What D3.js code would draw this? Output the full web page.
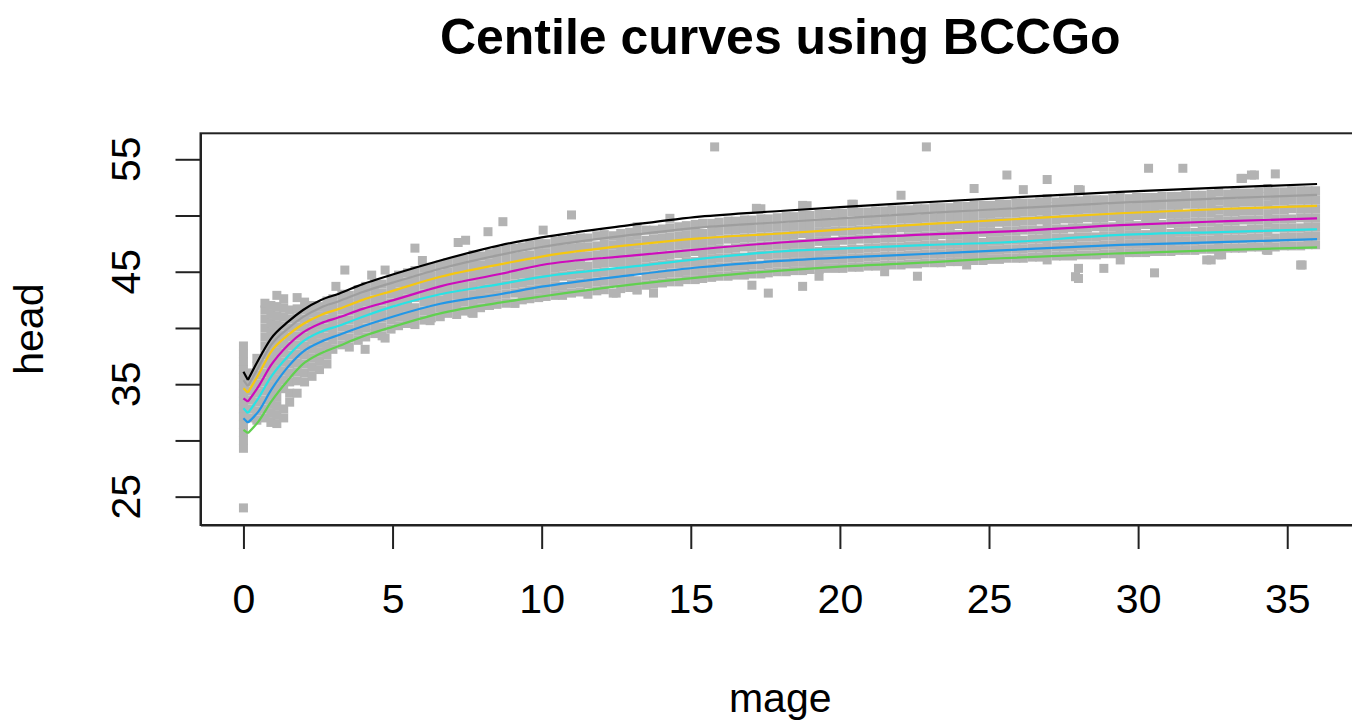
<!DOCTYPE html>
<html>
<head>
<meta charset="utf-8">
<script src="https://cdn.jsdelivr.net/npm/d3@7"></script>
<style>
  html, body { margin: 0; padding: 0; background: #ffffff; }
  svg { display: block; }
  text { font-family: "Liberation Sans", Arial, Helvetica, sans-serif; fill: #000; }
</style>
</head>
<body>
<svg id="chart" width="1352" height="726"></svg>
<script>
// ---- axis ticks ----
const xTicks = [0, 5, 10, 15, 20, 25, 30, 35];
const yTicks = [25, 30, 35, 40, 45, 50, 55];
const yTickLabels = [25, 35, 45, 55];

// ---- fitted centile curves (BCCGo): age in months -> head circumference ----
const centAges = [0, 0.15, 0.5, 0.93, 1.5, 2, 2.6, 3.2, 4, 5, 6.6, 8.6, 10, 13, 15.3, 18, 20, 23, 25.4, 29.4, 33, 36];
const c3  = [30.93, 30.64, 31.67, 33.45, 35.38, 36.8, 37.75, 38.4, 39.25, 40.1, 41.3, 42.25, 42.8, 43.85, 44.5, 45.1, 45.45, 45.84, 46.2, 46.64, 46.95, 47.17];
const c10 = [31.97, 31.58, 32.56, 34.49, 36.56, 37.9, 38.78, 39.38, 40.15, 41.0, 42.15, 43.0, 43.67, 44.7, 45.4, 45.96, 46.25, 46.6, 46.9, 47.38, 47.65, 47.9];
const c25 = [32.86, 32.42, 33.75, 35.67, 37.51, 38.8, 39.67, 40.2, 41.0, 41.9, 43.0, 43.9, 44.55, 45.45, 46.15, 46.8, 47.05, 47.38, 47.6, 48.27, 48.55, 48.78];
const c50 = [33.75, 33.45, 34.78, 36.71, 38.49, 39.6, 40.42, 40.95, 41.7, 42.45, 43.7, 44.8, 45.6, 46.43, 47.0, 47.6, 47.95, 48.33, 48.56, 49.15, 49.5, 49.75];
const c75 = [34.64, 34.25, 35.82, 37.9, 39.38, 40.35, 41.16, 41.7, 42.5, 43.3, 44.55, 45.66, 46.35, 47.38, 47.97, 48.4, 48.75, 49.25, 49.6, 50.2, 50.6, 50.85];
const c90 = [35.37, 34.82, 36.49, 38.49, 39.97, 40.98, 41.83, 42.38, 43.2, 44.03, 45.27, 46.5, 47.2, 48.27, 48.93, 49.4, 49.75, 50.23, 50.58, 51.15, 51.55, 51.83];
const c97 = [36.1, 35.38, 37.16, 39.08, 40.56, 41.6, 42.49, 43.05, 43.9, 44.75, 46.0, 47.35, 48.05, 49.16, 49.9, 50.4, 50.75, 51.2, 51.55, 52.1, 52.5, 52.8];
const centColors = ["#61D04F", "#2297E6", "#28E2E5", "#CD0BBC", "#F5C710", "#9E9E9E", "#000000"];

// ---- observations: each row is [age, head, head, ...] ----
const obsInfant = [
  [0, 38.4, 37.7, 37.0, 36.3, 35.6, 34.9, 34.2, 33.5, 32.8, 32.1, 31.4, 30.7, 30.0, 29.3],
  [0.25, 32.0, 32.8, 33.6, 34.4, 35.2, 36.0],
  [0.45, 31.8, 32.6, 33.4, 34.2, 35.0, 35.8, 36.6, 37.3],
  [0.72, 32.0, 32.8, 33.6, 34.4, 35.2, 36.0, 36.8, 37.6, 38.4, 39.2, 40.0, 40.8, 41.6, 42.2],
  [0.92, 31.6, 32.4, 33.2, 34.0, 34.8, 35.6, 36.4, 37.2, 38.0, 38.8, 39.6, 40.4, 41.2, 42.0],
  [1.12, 31.5, 32.3, 33.1, 33.9, 34.7, 35.5, 36.3, 37.1, 37.9, 38.7, 39.5, 40.3, 41.1, 41.9, 42.9],
  [1.35, 32.0, 32.8, 34.6, 35.4, 36.2, 37.0, 37.8, 38.6, 39.4, 40.2, 41.0, 41.8, 42.6],
  [1.55, 33.4, 34.2, 35.2, 36.0, 36.8, 37.6, 38.4, 39.2, 40.0, 40.8, 41.6],
  [1.8, 34.2, 35.3, 36.1, 36.9, 37.7, 38.5, 39.3, 40.1, 40.9, 41.7, 42.7],
  [2.05, 35.2, 36.0, 36.8, 37.6, 38.4, 39.2, 40.0, 40.8, 41.6, 42.3],
  [2.3, 35.7, 36.5, 37.3, 38.1, 38.9, 39.7, 40.5, 41.3, 42.0],
  [2.55, 36.3, 37.1, 37.9, 38.7, 39.5, 40.3, 41.1, 41.9],
  [2.8, 36.8, 37.6, 38.4, 39.2, 40.0, 40.8, 41.6, 42.4]
];

const obsEarly = [
  [3.0, 38.1, 38.9, 39.6, 40.4, 41.1, 41.9, 42.6],
  [3.3, 38.5, 39.3, 40.1, 40.8, 41.6, 42.3, 43.0],
  [3.55, 38.3, 39.1, 39.9, 40.7, 41.5, 42.2, 42.9],
  [3.85, 38.9, 39.7, 40.4, 41.2, 41.9, 42.7, 43.4],
  [4.1, 39.2, 40.0, 40.8, 41.5, 42.3, 43.0, 43.7],
  [4.4, 39.5, 40.2, 41.0, 41.8, 42.5, 43.3, 44.0],
  [4.65, 39.3, 40.1, 40.9, 41.6, 42.4, 43.1, 43.9],
  [4.95, 39.9, 40.7, 41.4, 42.2, 43.0, 43.7, 44.4],
  [5.2, 40.2, 41.0, 41.7, 42.5, 43.2, 44.0, 44.7],
  [5.5, 40.4, 41.1, 41.9, 42.6, 43.4, 44.1, 44.9],
  [5.75, 40.3, 41.1, 41.8, 42.7, 43.5, 44.3, 45.1],
  [6.05, 40.7, 41.5, 42.3, 43.0, 43.8, 44.5, 45.3],
  [6.3, 40.9, 41.6, 42.4, 43.1, 43.9, 44.6, 45.4],
  [6.6, 41.0, 41.8, 42.5, 43.3, 44.1, 44.8, 45.6],
  [6.85, 41.3, 42.0, 42.8, 43.5, 44.3, 45.0, 45.8],
  [7.15, 41.2, 42.0, 42.9, 43.7, 44.4, 45.2, 46.0],
  [7.4, 41.5, 42.3, 43.0, 43.8, 44.6, 45.4, 46.1],
  [7.7, 41.3, 42.1, 42.9, 43.7, 44.5, 45.2, 46.0, 46.5],
  [7.95, 41.8, 42.6, 43.3, 44.1, 44.9, 45.6, 46.4],
  [8.25, 42.0, 42.7, 43.5, 44.3, 45.0, 45.8, 46.6],
  [8.5, 42.1, 42.9, 43.7, 44.4, 45.2, 46.0, 46.8],
  [8.8, 42.2, 43.0, 43.8, 44.6, 45.4, 46.2, 47.0],
  [9.1, 42.2, 43.1, 43.9, 44.7, 45.5, 46.3, 47.1],
  [9.35, 42.5, 43.2, 44.0, 44.8, 45.6, 46.4, 47.2],
  [9.6, 42.6, 43.4, 44.2, 44.9, 45.7, 46.5, 47.4],
  [9.9, 42.7, 43.5, 44.3, 45.1, 45.9, 46.7, 47.5]
];

const obsMid = [
  [10.15, 42.8, 43.6, 44.4, 45.2, 46.0, 46.7, 47.5],
  [10.45, 42.9, 43.7, 44.5, 45.3, 46.1, 46.9, 47.7],
  [10.7, 42.9, 43.7, 44.6, 45.4, 46.2, 47.0, 47.8],
  [11.0, 43.1, 43.9, 44.7, 45.5, 46.3, 47.1, 47.9],
  [11.3, 43.2, 44.0, 44.8, 45.6, 46.4, 47.2, 48.0],
  [11.55, 43.0, 43.9, 44.7, 45.5, 46.4, 47.2, 48.0],
  [11.85, 43.3, 44.1, 44.9, 45.7, 46.5, 47.3, 48.2],
  [12.1, 43.4, 44.2, 45.0, 45.8, 46.7, 47.5, 48.3],
  [12.4, 43.1, 44.1, 44.9, 45.8, 46.6, 47.4, 48.2],
  [12.65, 43.5, 44.3, 45.1, 45.9, 46.8, 47.6, 48.4],
  [12.95, 43.6, 44.4, 45.2, 46.0, 46.9, 47.7, 48.5],
  [13.2, 43.4, 44.2, 45.1, 45.9, 46.7, 47.5, 48.3, 49.0],
  [13.5, 43.8, 44.6, 45.4, 46.2, 47.0, 47.8, 48.7],
  [13.75, 43.1, 43.9, 44.7, 45.5, 46.3, 47.1, 47.9, 48.7],
  [14.05, 44.0, 44.8, 45.6, 46.4, 47.2, 48.0, 48.8],
  [14.3, 44.1, 44.9, 45.7, 46.5, 47.3, 48.1, 48.9, 49.75],
  [14.6, 44.1, 44.9, 45.7, 46.6, 47.4, 48.2, 49.0],
  [14.85, 44.3, 45.1, 45.9, 46.7, 47.5, 48.3, 49.1],
  [15.15, 44.3, 45.1, 45.9, 46.8, 47.6, 48.4, 49.2],
  [15.4, 44.4, 45.2, 46.0, 46.8, 47.6, 48.4, 49.3],
  [15.7, 44.5, 45.3, 46.1, 46.9, 47.7, 48.5, 49.3],
  [15.95, 44.6, 45.4, 46.2, 47.0, 47.8, 48.6, 49.4],
  [16.25, 44.6, 45.4, 46.2, 47.0, 47.9, 48.7, 49.5],
  [16.5, 44.7, 45.5, 46.3, 47.1, 47.9, 48.7, 49.5],
  [16.8, 44.7, 45.5, 46.3, 47.2, 48.0, 48.8, 49.6],
  [17.05, 43.8, 44.8, 45.6, 46.4, 47.2, 48.0, 48.8, 49.6],
  [17.35, 44.8, 45.6, 46.5, 47.3, 48.1, 48.9, 49.7, 50.6],
  [17.6, 43.1, 44.9, 45.7, 46.5, 47.3, 48.1, 48.9, 49.7],
  [17.9, 45.0, 45.8, 46.6, 47.4, 48.2, 49.0, 49.8],
  [18.2, 45.0, 45.8, 46.6, 47.4, 48.2, 49.0, 49.9],
  [18.45, 45.1, 45.9, 46.7, 47.5, 48.3, 49.1, 49.9],
  [18.75, 43.7, 45.1, 45.9, 46.7, 47.5, 48.4, 49.2, 50.0, 50.9],
  [19.0, 45.2, 46.0, 46.8, 47.6, 48.4, 49.2, 50.0],
  [19.3, 44.6, 45.2, 46.0, 46.8, 47.7, 48.5, 49.3, 50.1],
  [19.55, 45.3, 46.1, 46.9, 47.7, 48.5, 49.3, 50.1],
  [19.85, 45.3, 46.1, 46.9, 47.7, 48.6, 49.4, 50.2]
];

const obsLate = [
  [20.1, 45.3, 46.1, 46.9, 47.8, 48.6, 49.4, 50.2],
  [20.4, 45.4, 46.2, 47.0, 47.8, 48.6, 49.4, 50.3, 51.0],
  [20.65, 45.4, 46.2, 47.0, 47.9, 48.7, 49.5, 50.3],
  [20.95, 45.5, 46.3, 47.1, 47.9, 48.7, 49.5, 50.3],
  [21.2, 45.5, 46.3, 47.1, 47.9, 48.8, 49.6, 50.4],
  [21.5, 45.0, 45.6, 46.4, 47.2, 48.0, 48.8, 49.6, 50.4],
  [21.75, 45.6, 46.4, 47.2, 48.0, 48.8, 49.6, 50.5],
  [22.05, 45.6, 46.4, 47.2, 48.0, 48.9, 49.7, 50.5, 51.8],
  [22.3, 45.7, 46.5, 47.3, 48.1, 48.9, 49.7, 50.5],
  [22.6, 44.6, 45.7, 46.5, 47.3, 48.1, 48.9, 49.7, 50.6],
  [22.85, 45.8, 46.6, 47.4, 48.2, 49.0, 49.8, 50.6],
  [23.15, 45.8, 46.6, 47.4, 48.2, 49.0, 49.8, 50.7],
  [23.4, 45.8, 46.6, 47.4, 48.3, 49.1, 49.9, 50.7],
  [23.7, 45.9, 46.7, 47.5, 48.3, 49.1, 49.9, 50.7],
  [23.95, 45.9, 46.7, 47.5, 48.3, 49.2, 50.0, 50.8],
  [24.25, 45.6, 46.0, 46.8, 47.6, 48.4, 49.2, 50.0, 50.8],
  [24.5, 46.0, 46.8, 47.6, 48.4, 49.2, 50.0, 50.9, 52.4],
  [24.8, 46.0, 46.8, 47.6, 48.5, 49.3, 50.1, 50.9],
  [25.05, 46.1, 46.9, 47.7, 48.5, 49.3, 50.1, 50.9],
  [25.35, 46.1, 46.9, 47.7, 48.5, 49.4, 50.2, 51.0],
  [25.6, 46.2, 47.0, 47.8, 48.6, 49.4, 50.2, 51.0, 53.6],
  [25.9, 46.2, 47.0, 47.8, 48.6, 49.4, 50.2, 51.1],
  [26.15, 46.2, 47.0, 47.8, 48.7, 49.5, 50.3, 51.1, 52.3],
  [26.45, 46.3, 47.1, 47.9, 48.7, 49.5, 50.3, 51.1],
  [26.7, 46.3, 47.1, 47.9, 48.7, 49.6, 50.4, 51.2],
  [26.95, 46.05, 46.8, 47.6, 48.4, 49.2, 50.0, 50.8, 51.5, 53.2],
  [27.25, 46.4, 47.2, 48.0, 48.8, 49.6, 50.4, 51.2],
  [27.5, 46.4, 47.2, 48.0, 48.8, 49.7, 50.5, 51.3],
  [27.8, 46.4, 47.2, 48.0, 48.9, 49.7, 50.5, 51.3],
  [28.0, 44.4, 45.3, 46.5, 47.3, 48.1, 48.9, 49.7, 50.5, 51.3, 52.3],
  [28.3, 46.5, 47.3, 48.1, 48.9, 49.8, 50.6, 51.4],
  [28.6, 46.5, 47.3, 48.1, 49.0, 49.8, 50.6, 51.4],
  [28.85, 45.3, 46.6, 47.4, 48.2, 49.0, 49.8, 50.6, 51.4],
  [29.15, 46.6, 47.4, 48.2, 49.0, 49.9, 50.7, 51.5],
  [29.4, 46.05, 46.8, 47.6, 48.4, 49.2, 50.0, 50.8, 51.6],
  [29.7, 46.7, 47.5, 48.3, 49.1, 49.9, 50.7, 51.5],
  [29.95, 46.7, 47.5, 48.3, 49.1, 50.0, 50.8, 51.6],
  [30.25, 46.7, 47.5, 48.3, 49.2, 50.0, 50.8, 51.6],
  [30.55, 44.9, 46.8, 47.6, 48.4, 49.2, 50.0, 50.8, 51.6],
  [30.8, 46.8, 47.6, 48.4, 49.2, 50.1, 50.9, 51.7],
  [31.1, 46.8, 47.6, 48.4, 49.3, 50.1, 50.9, 51.7],
  [31.35, 46.9, 47.7, 48.5, 49.3, 50.1, 50.9, 51.7],
  [31.6, 46.9, 47.7, 48.5, 49.3, 50.1, 51.0, 51.8],
  [31.9, 46.9, 47.7, 48.5, 49.4, 50.2, 51.0, 51.8],
  [32.15, 47.0, 47.8, 48.6, 49.4, 50.2, 51.0, 51.8],
  [32.45, 46.05, 47.0, 47.8, 48.6, 49.4, 50.2, 51.0, 51.9],
  [32.7, 46.5, 47.3, 48.1, 48.9, 49.7, 50.5, 51.3, 52.1],
  [33.0, 47.1, 47.9, 48.7, 49.5, 50.3, 51.1, 51.9],
  [33.25, 47.1, 47.9, 48.7, 49.5, 50.3, 51.1, 52.0],
  [33.5, 47.1, 47.9, 48.7, 49.6, 50.4, 51.2, 52.0, 53.3],
  [33.8, 47.2, 48.0, 48.8, 49.6, 50.4, 51.2, 52.0, 53.6],
  [34.05, 47.2, 48.0, 48.8, 49.6, 50.4, 51.2, 52.1],
  [34.35, 46.9, 47.7, 48.5, 49.3, 50.1, 50.9, 51.7, 52.4],
  [34.6, 47.2, 48.0, 48.9, 49.7, 50.5, 51.3, 52.1, 53.7],
  [34.9, 47.3, 48.1, 48.9, 49.7, 50.5, 51.3, 52.1],
  [35.15, 47.3, 48.1, 48.9, 49.7, 50.6, 51.4, 52.2],
  [35.45, 45.6, 47.3, 48.1, 48.9, 49.8, 50.6, 51.4, 52.2],
  [35.7, 47.4, 48.2, 49.0, 49.8, 50.6, 51.4, 52.2],
  [35.95, 47.4, 48.2, 49.0, 49.8, 50.6, 51.4, 52.2]
];

// scattered observations away from the main band: [age, head]
const obsOutliers = [
  [0, 24.0], [3.1, 43.7], [3.4, 45.15], [4.08, 38.1], [4.3, 44.7], [4.75, 45.15], [4.75, 39.1],
  [5.75, 47.1], [6.0, 46.0], [6.26, 40.65], [7.2, 47.6], [7.45, 47.8], [7.66, 41.36],
  [8.2, 48.56], [8.7, 49.45], [9.1, 42.2], [9.6, 42.65], [10.05, 48.7], [11.0, 50.05],
  [12.5, 43.1], [13.2, 43.38], [15.8, 56.1], [17.2, 50.64], [18.9, 50.87], [20.45, 51.0],
  [22.9, 56.1], [27.9, 44.56], [28.06, 52.27], [30.35, 54.2], [31.5, 54.2], [32.3, 46.05],
  [32.8, 46.5], [33.45, 53.3], [33.9, 53.6], [34.3, 46.94], [35.5, 45.6]
];

// ---- layout ----
const svg = d3.select("#chart");
const W = 1352, H = 726;
const box = { left: 200.5, right: 1360, top: 133.3, bottom: 525 };

svg.append("rect").attr("width", W).attr("height", H).attr("fill", "#ffffff");

const x = d3.scaleLinear().domain([-1.44, 37.44]).range([box.left, box.right]);
const y = d3.scaleLinear().domain([22.48, 57.31]).range([box.bottom, box.top]);

svg.append("defs").append("clipPath").attr("id", "plotClip")
  .append("rect")
  .attr("x", box.left).attr("y", box.top)
  .attr("width", box.right - box.left).attr("height", box.bottom - box.top);

const plot = svg.append("g").attr("clip-path", "url(#plotClip)");

// observations as filled squares
const points = [];
[obsInfant, obsEarly, obsMid, obsLate].forEach(rows => {
  rows.forEach(row => {
    for (let i = 1; i < row.length; i++) points.push([row[0], row[i]]);
  });
});
obsOutliers.forEach(p => points.push(p));

const sq = 9;
plot.append("g").selectAll("rect")
  .data(points)
  .join("rect")
  .attr("x", d => x(d[0]) - sq / 2)
  .attr("y", d => y(d[1]) - sq / 2)
  .attr("width", sq)
  .attr("height", sq)
  .attr("fill", "#B3B3B3");

// centile curves: straight drop from birth to the first minimum, smooth afterwards
const centSeries = [c3, c10, c25, c50, c75, c90, c97];
const lineStart = d3.line().x(d => x(d[0])).y(d => y(d[1]));
const lineRest = d3.line().x(d => x(d[0])).y(d => y(d[1])).curve(d3.curveMonotoneX);

centSeries.forEach((vals, k) => {
  const pts = centAges.map((a, i) => [a, vals[i]]);
  const g = plot.append("g")
    .attr("fill", "none")
    .attr("stroke", centColors[k])
    .attr("stroke-width", 2.2)
    .attr("stroke-linejoin", "round");
  g.append("path").attr("d", lineStart(pts.slice(0, 2)));
  g.append("path").attr("d", lineRest(pts.slice(1)));
});

// plot frame
svg.append("rect")
  .attr("x", box.left).attr("y", box.top)
  .attr("width", box.right - box.left).attr("height", box.bottom - box.top)
  .attr("fill", "none")
  .attr("stroke", "#222")
  .attr("stroke-width", 2);

// x axis
const xAxis = svg.append("g")
  .attr("transform", `translate(0,${box.bottom})`)
  .call(d3.axisBottom(x).tickValues(xTicks).tickSize(24).tickSizeOuter(0).tickPadding(35).tickFormat(d3.format("d")));
xAxis.select(".domain").attr("stroke", "#222").attr("stroke-width", 2);
xAxis.selectAll(".tick line").attr("stroke", "#222").attr("stroke-width", 2);
xAxis.selectAll(".tick text")
  .attr("font-size", 41)
  .attr("font-family", "'Liberation Sans', Arial, sans-serif")
  .attr("fill", "#000");

// y axis (ticks only; labels drawn rotated below)
const yAxis = svg.append("g")
  .attr("transform", `translate(${box.left},0)`)
  .call(d3.axisLeft(y).tickValues(yTicks).tickSize(25).tickSizeOuter(0).tickFormat(""));
yAxis.select(".domain").attr("stroke", "#222").attr("stroke-width", 2);
yAxis.selectAll(".tick line").attr("stroke", "#222").attr("stroke-width", 2);

svg.append("g").selectAll("text")
  .data(yTickLabels)
  .join("text")
  .attr("transform", d => `translate(140,${y(d)}) rotate(-90)`)
  .attr("text-anchor", "middle")
  .attr("font-size", 41)
  .text(d => d);

// titles
svg.append("text")
  .attr("x", (box.left + box.right) / 2)
  .attr("y", 54)
  .attr("text-anchor", "middle")
  .attr("font-size", 50)
  .attr("font-weight", "bold")
  .text("Centile curves using BCCGo");

svg.append("text")
  .attr("x", (box.left + box.right) / 2)
  .attr("y", 712)
  .attr("text-anchor", "middle")
  .attr("font-size", 41)
  .text("mage");

svg.append("text")
  .attr("transform", `translate(43,${(box.top + box.bottom) / 2}) rotate(-90)`)
  .attr("text-anchor", "middle")
  .attr("font-size", 41)
  .text("head");
</script>
</body>
</html>
